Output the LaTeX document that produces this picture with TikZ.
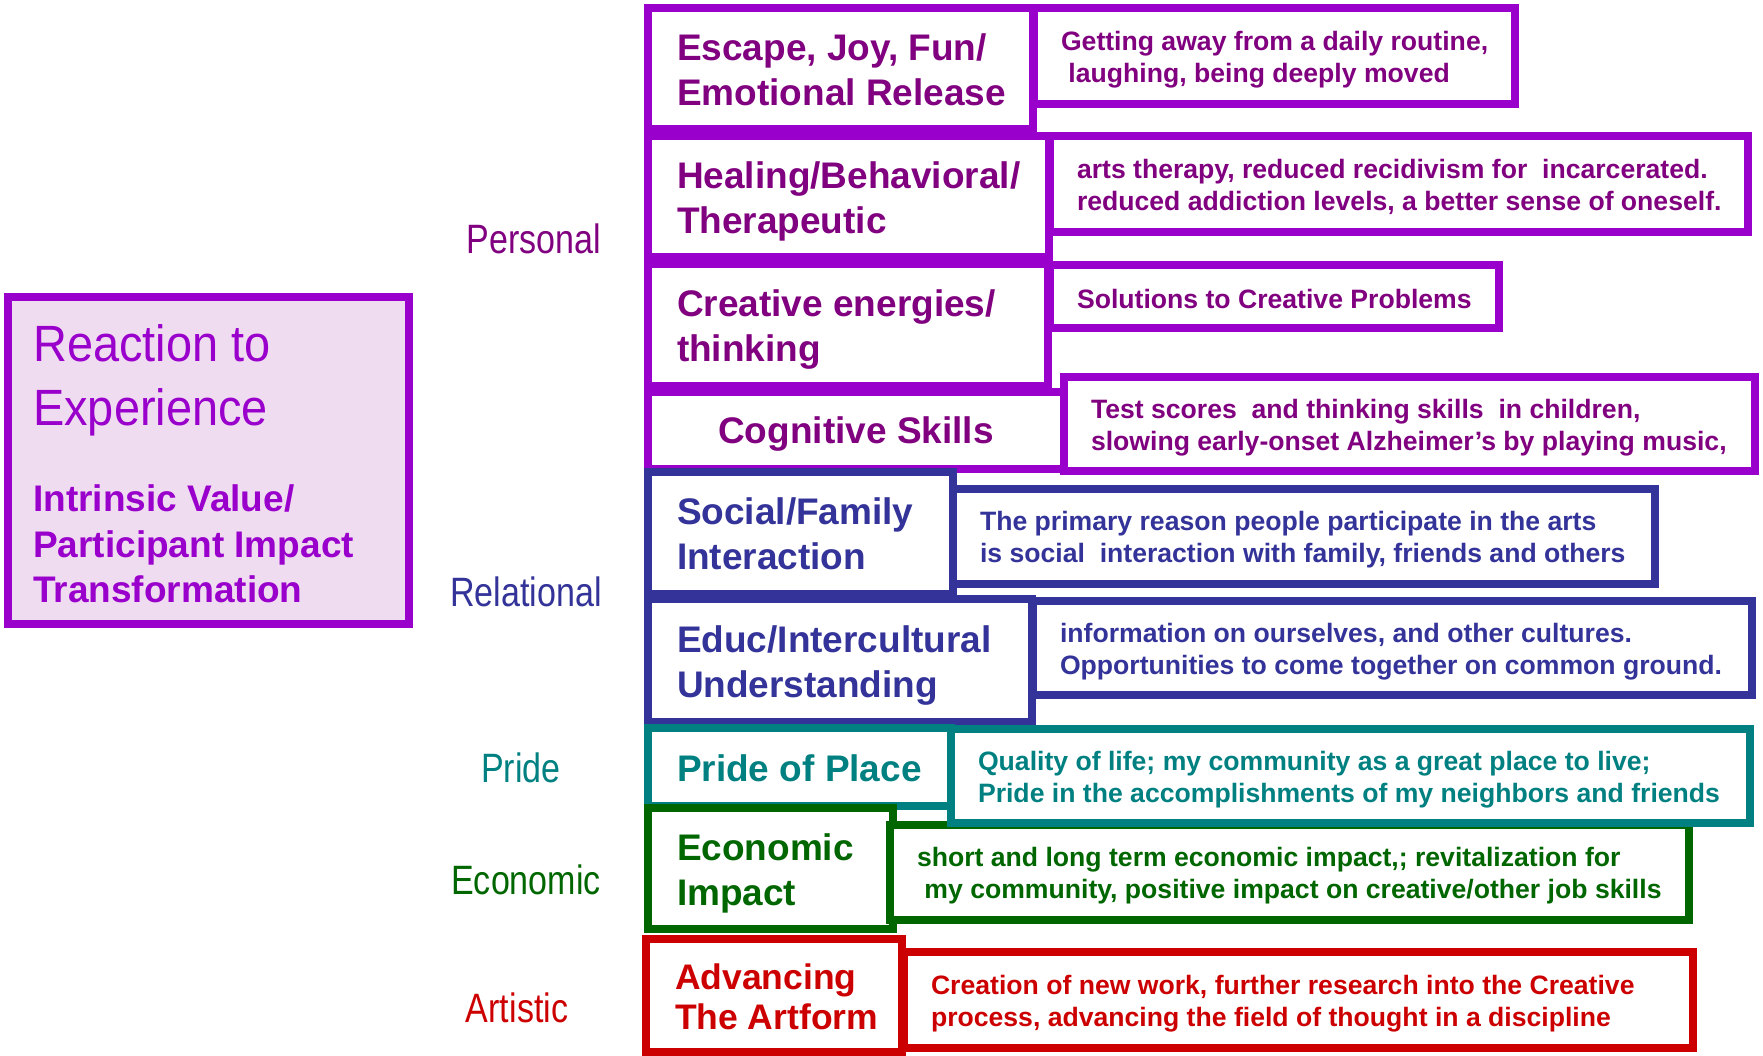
\documentclass[tikz,border=0pt]{standalone}
\usepackage{fontspec}
\setmainfont{Liberation Sans}
\newfontfamily\narrowfont[FakeStretch=0.83]{Liberation Sans}
\newfontfamily\reactfont[FakeStretch=0.92]{Liberation Sans}
\usetikzlibrary{positioning}
\definecolor{purp}{HTML}{9900CC}
\definecolor{purptxt}{HTML}{800080}
\definecolor{navy}{HTML}{333399}
\definecolor{tealc}{HTML}{008080}
\definecolor{greenc}{HTML}{006600}
\definecolor{redc}{HTML}{CC0000}
\definecolor{lavender}{RGB}{240,220,240}
\tikzset{ tb/.style = { rectangle % title or description box
        , draw = #1
        , line width = 8.5pt
        , fill = white
        , outer sep = 0pt
        , inner sep = 0pt
        , anchor = north west
        }
        , tt/.style = { align = left % title text
        , inner sep = 0pt
        , outer sep = 0pt
        , yshift = -7.5pt
        , text = #1
        , font = \bfseries\fontsize{37}{45}\selectfont
        , execute at begin node = \strut
        , execute at end node = \strut
        }
        , dt/.style = { align = left % description text
        , inner sep = 0pt
        , outer sep = 0pt
        , yshift = -5.5pt
        , text = #1
        , font = \bfseries\fontsize{26.6}{32}\selectfont
        , execute at begin node = \strut
        , execute at end node = \strut
        }
        , cat/.style = { anchor = base % category label
        , inner sep = 0pt
        , text = #1
        , font = \narrowfont\fontsize{41}{49}\selectfont
        }
        }

\begin{document}
\begin{tikzpicture}[x=1pt, y=-1pt, node distance=27pt,
        big_style/.style={rectangle,draw=purp,line width=8.5pt,fill=lavender,outer sep=0pt,anchor=north west},
        react_style/.style={anchor=west,align=left,inner sep=0pt,text=purp,execute at begin node=\strut,execute at end node=\strut}]
        \useasboundingbox (0,0) rectangle (1763,1056);

        % left panel
        \node [big_style, minimum width=401pt, minimum height=327pt] (experience) at (8,297) {};
        \node [react_style, font=\reactfont\fontsize{51}{64}\selectfont] (reaction) at (33,384.5) {Reaction to\\Experience};
        \node [react_style, font=\bfseries\fontsize{37}{45.5}\selectfont] (intrinsic) at (33,550.5) {Intrinsic Value/\\Participant Impact\\Transformation};

        % categories
        \node [cat=purptxt] (personal) at (534,254) {Personal};
        \node [cat=navy] (relational) at (526,606) {Relational};
        \node [cat=tealc] (pride) at (521,782) {Pride};
        \node [cat=greenc] (economic) at (526,894) {Economic};
        \node [cat=redc] (artistic) at (517,1022) {Artistic};

        % title boxes
        \node [tb=purp, minimum width=385pt, minimum height=121pt] (escape) at (648,8) {};
        \node [tb=purp, minimum width=401pt, minimum height=121pt] (healing) at (648,136) {};
        \node [tb=purp, minimum width=400pt, minimum height=122pt] (creative) at (648,264) {};
        \node [tb=purp, minimum width=416pt, minimum height=77pt] (cognitive) at (648,392) {};
        \node [tb=navy, minimum width=305pt, minimum height=122pt] (social) at (648,472) {};
        \node [tb=navy, minimum width=384pt, minimum height=123pt] (educ) at (648,599) {};
        \node [tb=tealc, minimum width=303pt, minimum height=78pt] (place) at (648,728) {};
        \node [tb=greenc, minimum width=245pt, minimum height=121pt] (econ) at (648,808) {};
        \node [tb=redc, minimum width=256pt, minimum height=113pt] (artform) at (646,939) {};

        \node [tt=purptxt, right=29pt of escape.west] (escape_t) {Escape, Joy, Fun/\\Emotional Release};
        \node [tt=purptxt, right=29pt of healing.west] (healing_t) {Healing/Behavioral/\\Therapeutic};
        \node [tt=purptxt, right=29pt of creative.west] (creative_t) {Creative energies/\\thinking};
        \node [tt=purptxt, anchor=center, yshift=3.5pt] (cognitive_t) at (cognitive.center) {Cognitive Skills};
        \node [tt=navy, right=29pt of social.west] (social_t) {Social/Family\\Interaction};
        \node [tt=navy, right=29pt of educ.west] (educ_t) {Educ/Intercultural\\Understanding};
        \node [tt=tealc, right=29pt of place.west, yshift=2pt] (place_t) {Pride of Place};
        \node [tt=greenc, right=29pt of econ.west] (econ_t) {Economic\\Impact};
        \node [tt=redc, right=29pt of artform.west, font=\bfseries\fontsize{35.5}{40}\selectfont] (artform_t) {Advancing\\The Artform};

        % description boxes
        \node [tb=purp, minimum width=481pt, minimum height=96pt] (escape_d) at (1034,8) {};
        \node [tb=purp, minimum width=698pt, minimum height=96pt] (healing_d) at (1050,136) {};
        \node [tb=purp, minimum width=449pt, minimum height=63pt] (creative_d) at (1050,265) {};
        \node [tb=purp, minimum width=691pt, minimum height=94pt] (cognitive_d) at (1064,377) {};
        \node [tb=navy, minimum width=702pt, minimum height=95pt] (social_d) at (953,489) {};
        \node [tb=navy, minimum width=719pt, minimum height=94pt] (educ_d) at (1033,601) {};
        \node [tb=greenc, minimum width=799pt, minimum height=95pt] (econ_d) at (890,825) {};
        \node [tb=tealc, minimum width=799pt, minimum height=94pt] (place_d) at (951,729) {};
        \node [tb=redc, minimum width=789pt, minimum height=96pt] (artform_d) at (904,952) {};

        \node [dt=purptxt, right=of escape_d.west] (escape_dt) {Getting away from a daily routine,\\\hspace*{0.28em}laughing, being deeply moved};
        \node [dt=purptxt, right=of healing_d.west] (healing_dt) {arts therapy, reduced recidivism for\ \ incarcerated.\\reduced addiction levels, a better sense of oneself.};
        \node [dt=purptxt, right=of creative_d.west] (creative_dt) {Solutions to Creative Problems};
        \node [dt=purptxt, right=of cognitive_d.west] (cognitive_dt) {Test scores\ \ and thinking skills\ \ in children,\\slowing early-onset Alzheimer’s by playing music,};
        \node [dt=navy, right=of social_d.west] (social_dt) {The primary reason people participate in the arts\\is social\ \ interaction with family, friends and others};
        \node [dt=navy, right=of educ_d.west] (educ_dt) {information on ourselves, and other cultures.\\Opportunities to come together on common ground.};
        \node [dt=tealc, right=of place_d.west] (place_dt) {Quality of life; my community as a great place to live;\\Pride in the accomplishments of my neighbors and friends};
        \node [dt=greenc, right=of econ_d.west] (econ_dt) {short and long term economic impact,; revitalization for\\\hspace*{0.28em}my community, positive impact on creative/other job skills};
        \node [dt=redc, right=of artform_d.west] (artform_dt) {Creation of new work, further research into the Creative\\process, advancing the field of thought in a discipline};
\end{tikzpicture}
\end{document}
